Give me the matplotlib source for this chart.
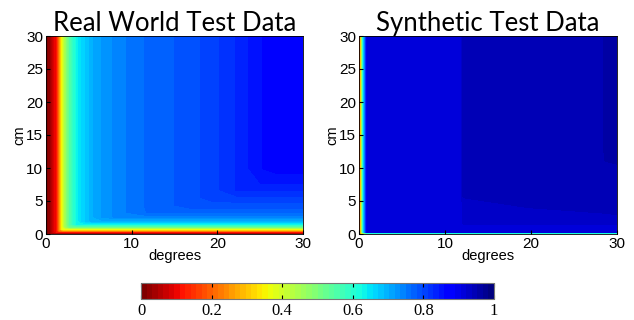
import numpy as np
import matplotlib
matplotlib.use('Agg')
import matplotlib.pyplot as plt
from matplotlib.colors import ListedColormap

# left panel: profile along x (top edge) and along y (right edge)
real_x = [0, 0.5, 0.9, 1.3, 1.6, 1.9, 2.3, 2.8, 3.6, 4.2, 4.8, 5.4, 6.5, 8.2, 11.3, 14.7, 16.8, 19.4, 22.3, 25.3, 27, 30]
real_fx = [0.0, 0.03, 0.08, 0.12, 0.24, 0.36, 0.46, 0.55, 0.63, 0.66, 0.68, 0.70, 0.72, 0.74, 0.765, 0.78, 0.79, 0.805, 0.83, 0.86, 0.875, 0.88]
real_y = [0, 0.12, 0.3, 0.5, 0.75, 1.1, 1.5, 2.0, 2.6, 3.3, 4.4, 5.6, 6.7, 7.7, 10, 30]
real_fy = [0.0, 0.04, 0.12, 0.25, 0.37, 0.52, 0.63, 0.70, 0.74, 0.77, 0.79, 0.81, 0.83, 0.845, 0.868, 0.88]

# right panel grid
syn_x = [0, 0.15, 0.3, 0.5, 0.75, 0.95, 11.9, 12.1, 28.2, 28.6, 30]
syn_y = [0, 0.1, 0.2, 2, 4, 6, 9, 13, 30]
syn_z = [
    [0.10, 0.25, 0.28, 0.28, 0.28, 0.28, 0.28, 0.28, 0.28, 0.28, 0.28],
    [0.10, 0.25, 0.32, 0.32, 0.32, 0.32, 0.32, 0.32, 0.32, 0.32, 0.32],
    [0.10, 0.20, 0.40, 0.62, 0.78, 0.91, 0.915, 0.915, 0.915, 0.915, 0.915],
    [0.10, 0.20, 0.40, 0.62, 0.78, 0.91, 0.915, 0.925, 0.925, 0.925, 0.925],
    [0.10, 0.20, 0.40, 0.62, 0.78, 0.91, 0.915, 0.930, 0.946, 0.947, 0.952],
    [0.10, 0.20, 0.40, 0.62, 0.78, 0.91, 0.915, 0.940, 0.947, 0.947, 0.950],
    [0.10, 0.20, 0.40, 0.62, 0.78, 0.91, 0.915, 0.942, 0.947, 0.948, 0.950],
    [0.10, 0.20, 0.40, 0.62, 0.78, 0.91, 0.915, 0.942, 0.947, 0.958, 0.958],
    [0.10, 0.20, 0.40, 0.62, 0.78, 0.91, 0.915, 0.942, 0.947, 0.958, 0.960],
]

titles = ['Real World Test Data', 'Synthetic Test Data']
cbar_ticks = [0, 0.2, 0.4, 0.6, 0.8, 1]

cmap = ListedColormap(plt.cm.jet_r(np.linspace(0, 1, 64)))
levels = np.linspace(0, 1, 65)

real_z = np.minimum(np.array(real_fx)[None, :], np.array(real_fy)[:, None])

fig = plt.figure(figsize=(6.34, 3.2), dpi=100)
ax1 = fig.add_axes([46/634, 1-234/320, 257/634, 198/320])
ax2 = fig.add_axes([359/634, 1-234/320, 258/634, 198/320])
cax = fig.add_axes([141/634, 1-299/320, 353/634, 16/320])

cs = ax1.contourf(real_x, real_y, real_z, levels=levels, cmap=cmap, vmin=0, vmax=1)
ax2.contourf(syn_x, syn_y, np.array(syn_z), levels=levels, cmap=cmap, vmin=0, vmax=1)

for ax, t in zip((ax1, ax2), titles):
    ax.set_xlim(0, 30)
    ax.set_ylim(0, 30)
    ax.set_xticks([0, 10, 20, 30])
    ax.set_yticks([0, 5, 10, 15, 20, 25, 30])
    ax.tick_params(direction='in', length=3, labelsize=11)
    ax.tick_params(axis='x', pad=2)
    ax.tick_params(axis='y', pad=2)
    for lab in ax.get_xticklabels() + ax.get_yticklabels():
        lab.set_family('Liberation Sans')
    ax.set_xlabel('degrees', family='Liberation Sans', fontsize=10.5, labelpad=-1.5)
    ax.set_ylabel('cm', family='Liberation Sans', fontsize=10.5, labelpad=0)
    ax.set_title(t, family='Lato', fontsize=18.5, pad=3)
    for s in ax.spines.values():
        s.set_linewidth(0.6)

cb = fig.colorbar(cs, cax=cax, orientation='horizontal', ticks=cbar_ticks)
cb.ax.tick_params(direction='in', length=3, labelsize=12, top=True, pad=3)
cb.ax.set_xticklabels(['0', '0.2', '0.4', '0.6', '0.8', '1'], family='Liberation Serif')
cb.outline.set_edgecolor('#777777')
cb.outline.set_linewidth(0.8)

fig.savefig('out.png', dpi=100)
